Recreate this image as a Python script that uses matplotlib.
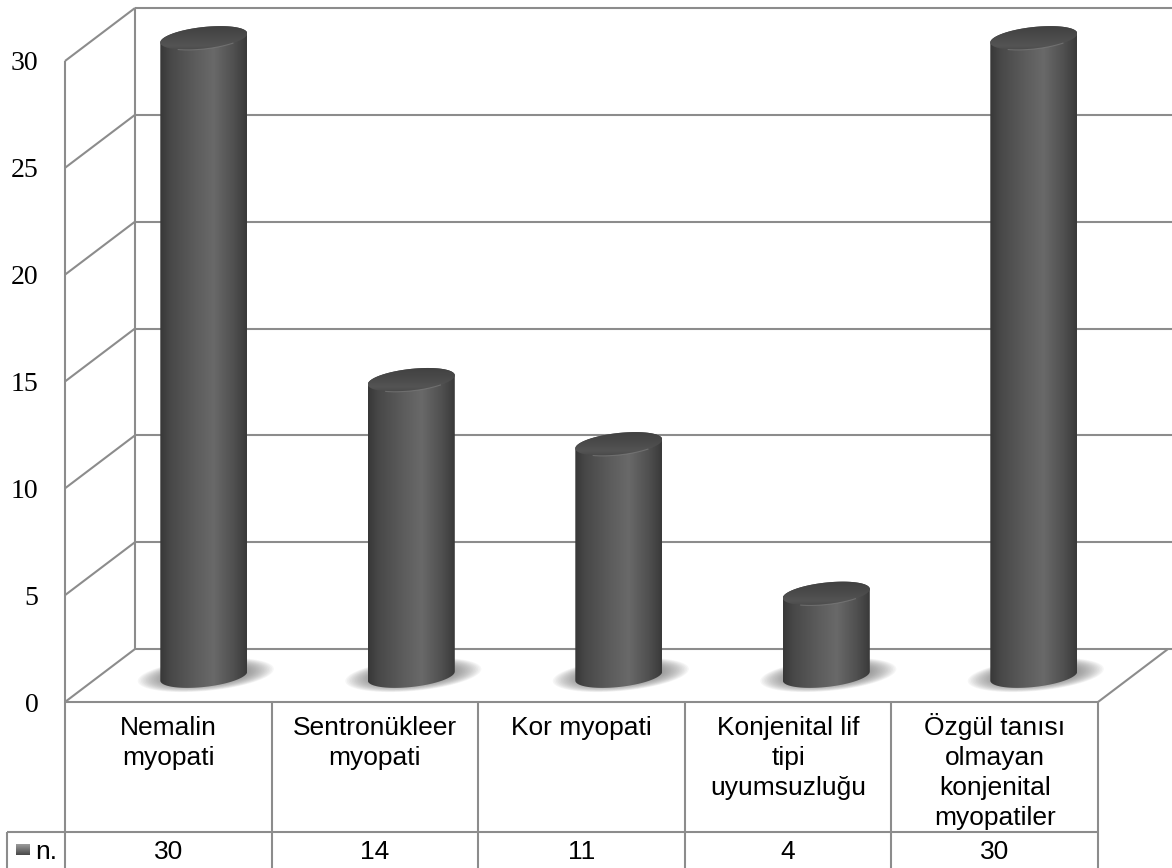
import numpy as np
import matplotlib
matplotlib.use('Agg')
import matplotlib.pyplot as plt
from matplotlib.colors import LinearSegmentedColormap
from matplotlib.patches import Polygon

categories = ['Nemalin\nmyopati', 'Sentronükleer\nmyopati', 'Kor myopati',
              'Konjenital lif\ntipi\nuyumsuzluğu',
              'Özgül tanısı\nolmayan\nkonjenital\nmyopatiler']
values = [30, 14, 11, 4, 30]
y_ticks = [0, 5, 10, 15, 20, 25, 30]
series_name = 'n.'

W, H = 1172, 868
LEFT, RIGHT, BOTTOM, TOP = 65, 1098, 702, 61  # plot front plane, px from top-left
COL_W = (RIGHT - LEFT) / len(categories)
UNIT = (BOTTOM - TOP) / 30


def dx(px):
    return px / COL_W


def dy(px):
    return px / UNIT


def xp(px):
    # pixel column to data x
    return (px - LEFT) / COL_W - 0.5


def yp(py):
    # pixel row to data y
    return (BOTTOM - py) / UNIT


DEPTH_X, DEPTH_Y = dx(70), dy(53)
LINE = '#8c8c8c'
LW = 1.5

body_cmap = LinearSegmentedColormap.from_list('body', [
    (0.0, '#383838'), (0.12, '#484848'), (0.4, '#5c5c5c'), (0.62, '#696969'),
    (0.85, '#505050'), (1.0, '#3a3a3a')])
top_cmap = LinearSegmentedColormap.from_list('top', [
    (0.0, '#3e3e3e'), (0.45, '#4a4a4a'), (0.75, '#545454'), (1.0, '#424242')])

fig = plt.figure(figsize=(W / 100, H / 100), dpi=100)
ax = fig.add_axes([LEFT / W, 1 - BOTTOM / H, (RIGHT - LEFT) / W, (BOTTOM - TOP) / H])
for s in ax.spines.values():
    s.set_visible(False)
ax.patch.set_visible(False)


def line(xs, ys, **kw):
    ax.plot(xs, ys, color=LINE, lw=LW, clip_on=False, solid_capstyle='butt', zorder=1, **kw)


# walls, floor and gridlines
x0, x1 = -0.5, len(categories) - 0.5
for v in y_ticks:
    line([x0, x0 + DEPTH_X], [v, v + DEPTH_Y])
    line([x0 + DEPTH_X, xp(W)], [v + DEPTH_Y, v + DEPTH_Y])
line([x0, x0], [0, 30])
line([x0 + DEPTH_X, x0 + DEPTH_X], [DEPTH_Y, 30 + DEPTH_Y])
line([x1, x1 + DEPTH_X], [0, DEPTH_Y])

# data table
row_y = yp(832)
bot_y = yp(H)
line([x0, x1], [0, 0])
line([xp(7), x1], [row_y, row_y])
line([xp(7), xp(7)], [row_y, bot_y])
for i in range(len(categories) + 1):
    line([x0 + i, x0 + i], [0, bot_y])

TABLE_FONT = dict(family='Liberation Sans', fontsize=19, color='black', clip_on=False)
for i, (name, v) in enumerate(zip(categories, values)):
    for k, part in enumerate(name.split('\n')):
        ax.text(i, yp(735 + 30 * k), part, ha='center', va='baseline', **TABLE_FONT)
    ax.text(i, yp(859), str(v), ha='center', va='baseline', **TABLE_FONT)
ax.text(xp(35), yp(859), series_name, ha='left', va='baseline', **TABLE_FONT)

# legend key in the table
key = ax.imshow(np.linspace(0, 1, 16).reshape(-1, 1), cmap=LinearSegmentedColormap.from_list(
    'key', ['#9a9a9a', '#4a4a4a']), aspect='auto', zorder=3,
    extent=(xp(16), xp(30), yp(855), yp(844)))
key.set_clip_box(fig.bbox)

# cylinders
BAR_HALF = dx(43.5)
BASE = dy(26)
TOP_OFFSET = dy(23)
ELL_B, ELL_S = dy(11), dy(4.5)
BAR_DX = dx(35.5)
BAR_STEP = dx(207.5)
t_full = np.linspace(0, 2 * np.pi, 121)
t_upper = np.linspace(0, np.pi, 61)
t_lower = np.linspace(np.pi, 2 * np.pi, 61)


def ellipse(cx, cy, a, b, s, t=t_full):
    return cx + a * np.cos(t), cy + b * np.sin(t) + s * np.cos(t)


for i, v in enumerate(values):
    cx = i * BAR_STEP + BAR_DX
    top = TOP_OFFSET + v

    # soft shadow on the floor
    for f in np.linspace(1.0, 0.55, 20):
        sx, sy = ellipse(cx + dx(2), BASE + dy(1), dx(68) * f, dy(16) * f, dy(6) * f)
        ax.add_patch(Polygon(np.c_[sx, sy], closed=True, fc='#707070', ec='none',
                             alpha=0.06, zorder=2, clip_on=False))

    # body = lower half of base ellipse + upper half at the top
    bx, by = ellipse(cx, BASE, BAR_HALF, ELL_B, ELL_S, t_lower)
    ux, uy = ellipse(cx, top, BAR_HALF, ELL_B, ELL_S, t_upper)
    outline = np.r_[np.c_[bx, by], np.c_[ux, uy]]
    clip = Polygon(outline, closed=True, fc='none', ec='none', transform=ax.transData)
    ax.add_patch(clip)
    clip.set_clip_on(False)
    im = ax.imshow(np.linspace(0, 1, 128).reshape(1, -1), cmap=body_cmap, aspect='auto',
                   extent=(cx - BAR_HALF, cx + BAR_HALF, 0, top + 1), zorder=3,
                   interpolation='bilinear', vmin=0, vmax=1)
    im.set_clip_path(clip)
    im.set_clip_box(fig.bbox)

    # top face
    tx, ty = ellipse(cx, top, BAR_HALF, ELL_B, ELL_S)
    face = Polygon(np.c_[tx, ty], closed=True, fc='none', ec='none', transform=ax.transData)
    ax.add_patch(face)
    face.set_clip_on(False)
    fim = ax.imshow(np.linspace(0, 1, 64).reshape(-1, 1), cmap=top_cmap, aspect='auto',
                    extent=(cx - BAR_HALF, cx + BAR_HALF, top - ELL_B - ELL_S, top + ELL_B + ELL_S),
                    origin='upper', zorder=4, interpolation='bilinear', vmin=0, vmax=1)
    fim.set_clip_path(face)
    fim.set_clip_box(fig.bbox)
    rim = (np.sin(t_full) < 0) & (np.cos(t_full) > -0.6) & (np.cos(t_full) < 0.7)
    ax.plot(tx[rim], ty[rim], color='#858585', lw=0.8, alpha=0.55, zorder=5, clip_on=False)

ax.set_xlim(x0, x1)
ax.set_ylim(0, 30)
ax.set_xticks([])
ax.set_yticks(y_ticks)
ax.tick_params(axis='y', length=0, pad=19)
for lab in ax.get_yticklabels():
    lab.set_family('Liberation Serif')
    lab.set_fontsize(20)
    lab.set_color('black')

fig.savefig('out.png', dpi=100, facecolor='white')
